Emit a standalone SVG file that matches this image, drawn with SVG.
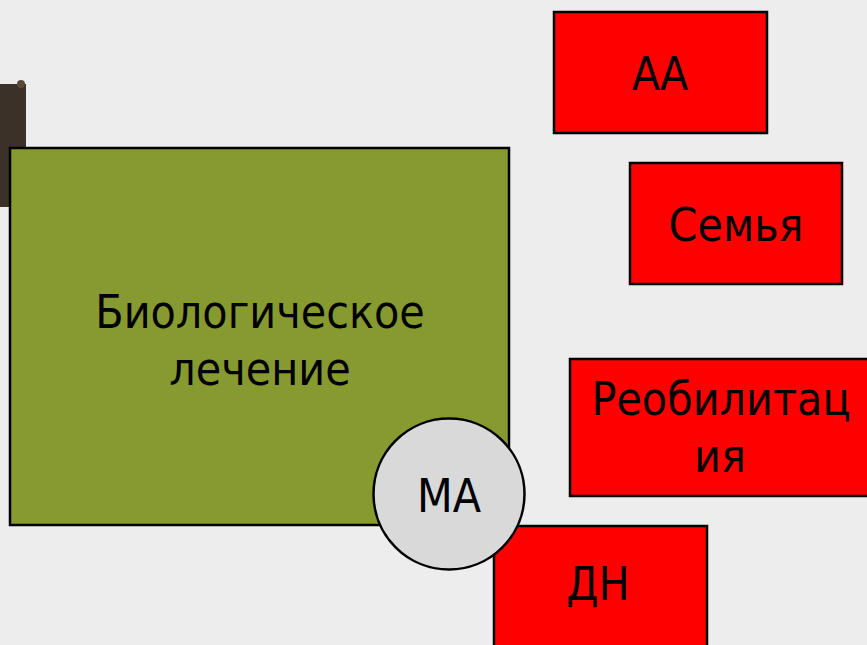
<svg xmlns="http://www.w3.org/2000/svg" width="867" height="645" viewBox="0 0 867 645">
<style>
.box{stroke:#000;stroke-width:2.5}
.red{fill:#ff0000}
.t{font-family:"DejaVu Sans Condensed","DejaVu Sans","Liberation Sans",sans-serif;font-stretch:condensed;font-size:46px;fill:#000;text-anchor:middle}
</style>
<rect width="867" height="645" fill="#ededed"/>
<g id="decor">
<rect x="0" y="84" width="26" height="123" fill="#3b3129"/>
<circle cx="21" cy="84" r="4" fill="#5a4a38"/>
</g>
<g id="connectors"></g>
<g id="bio">
<rect class="box" x="10" y="148" width="499" height="377" fill="#879a2f"/>
<text class="t" x="260" y="328">Биологическое</text>
<text class="t" x="260" y="385">лечение</text>
</g>
<g id="aa">
<rect class="box red" x="554" y="12" width="213" height="121"/>
<text class="t" x="660" y="90">АА</text>
</g>
<g id="family">
<rect class="box red" x="630" y="163" width="212" height="121"/>
<text class="t" x="736" y="241">Семья</text>
</g>
<g id="rehab">
<rect class="box red" x="570" y="359" width="310" height="137"/>
<text class="t" x="721" y="415">Реобилитац</text>
<text class="t" x="720" y="472">ия</text>
</g>
<g id="dn">
<rect class="box red" x="494" y="526" width="213" height="130"/>
<text class="t" x="598" y="600">ДН</text>
</g>
<g id="ma">
<circle class="box" cx="449" cy="494" r="75.5" fill="#d9d9d9"/>
<text class="t" x="449" y="512">МА</text>
</g>
</svg>
